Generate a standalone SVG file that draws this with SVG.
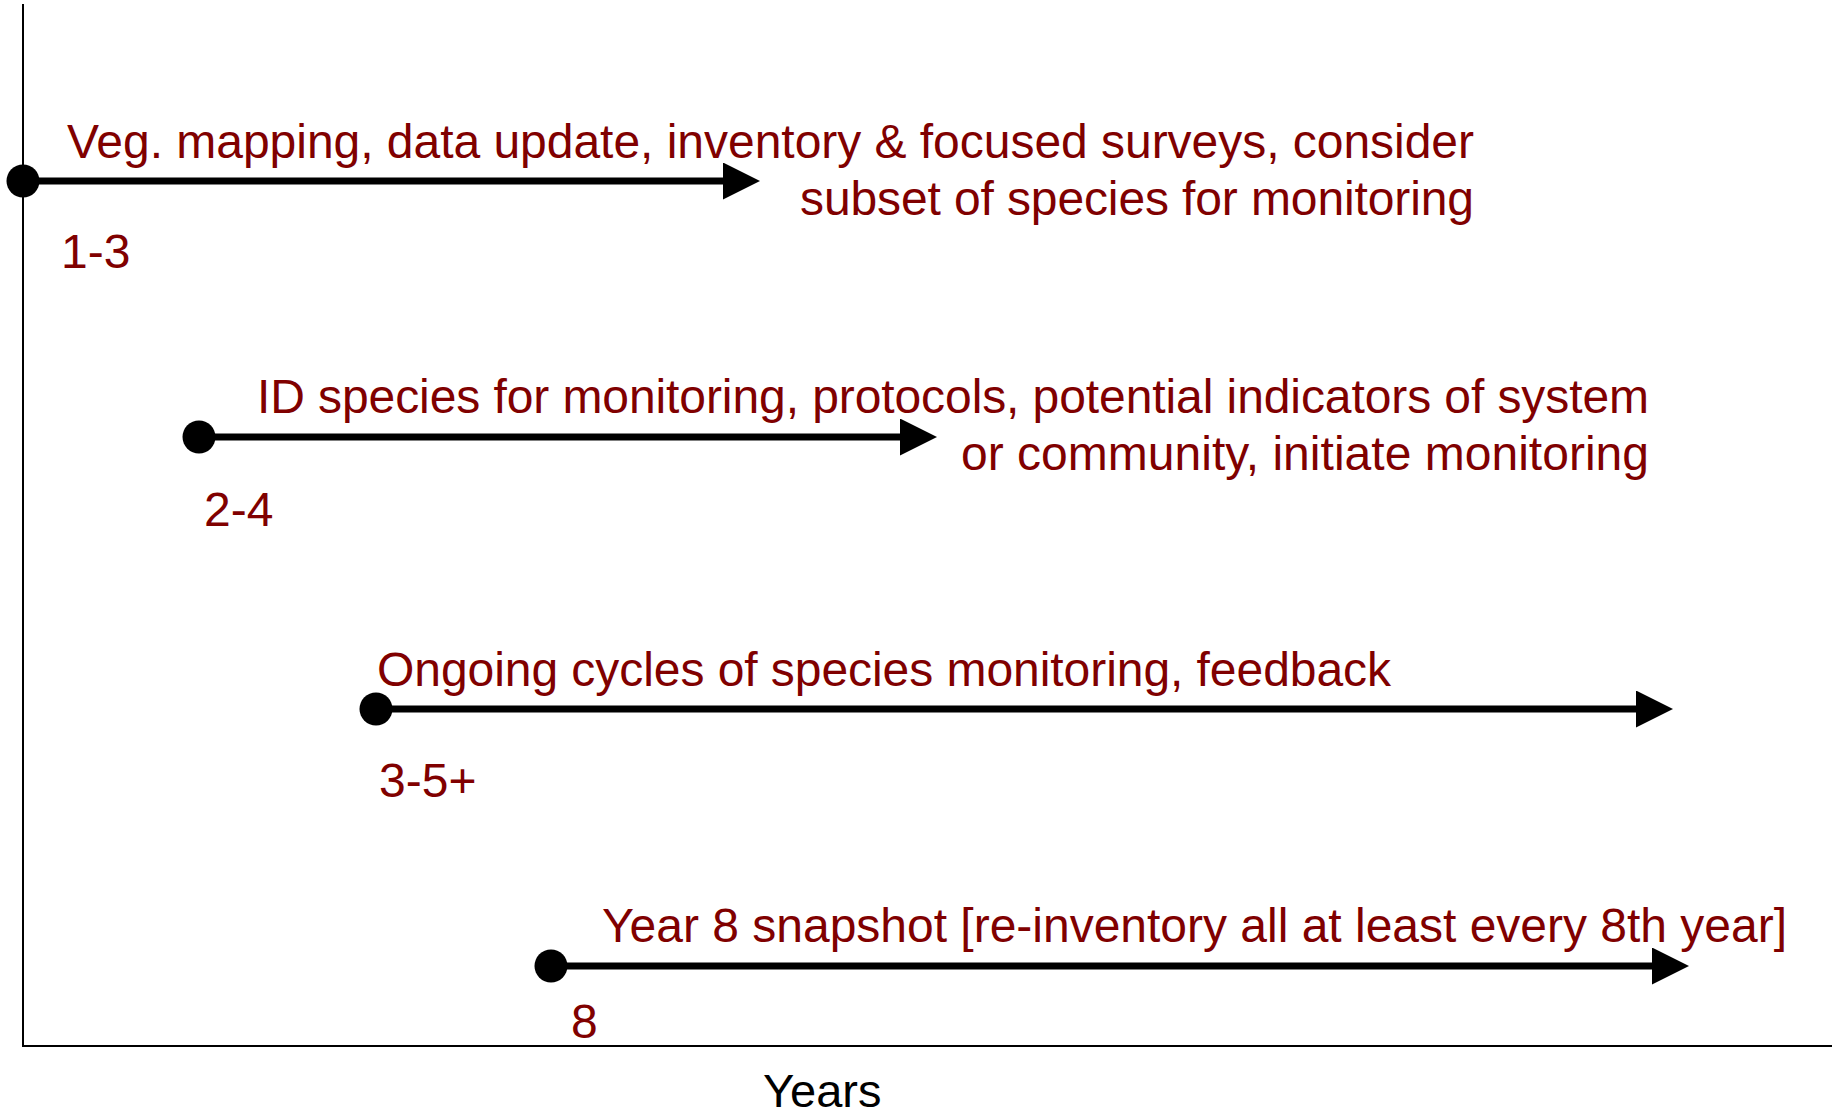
<svg xmlns="http://www.w3.org/2000/svg" width="1835" height="1119" viewBox="0 0 1835 1119">
  <style>
    .lbl { font-family: "Liberation Sans", Arial, sans-serif; font-size: 48px; fill: #800000; }
    .axlbl { font-family: "Liberation Sans", Arial, sans-serif; font-size: 47px; fill: #000000; }
    .axis { stroke: #000000; stroke-width: 2; fill: none; }
    .arrow { stroke: #000000; stroke-width: 7; fill: none; marker-end: url(#head); }
    .dot { fill: #000000; }
  </style>
  <defs>
    <marker id="head" viewBox="0 0 37 37" refX="5" refY="18.5" markerWidth="37" markerHeight="37" markerUnits="userSpaceOnUse" orient="auto">
      <path d="M0,0 L37,18.5 L0,37 Z" fill="#000000"/>
    </marker>
  </defs>
  <rect width="1835" height="1119" fill="#ffffff"/>

  <g id="axes">
    <path class="axis" d="M23,4 L23,1046 L1832,1046"/>
    <text class="axlbl" x="763" y="1107">Years</text>
  </g>

  <g id="connectors">
    <line class="arrow" x1="23" y1="181" x2="728" y2="181"/>
    <line class="arrow" x1="199" y1="437" x2="905" y2="437"/>
    <line class="arrow" x1="376" y1="709" x2="1641" y2="709"/>
    <line class="arrow" x1="551" y1="966" x2="1657" y2="966"/>
  </g>

  <g id="step1">
    <circle class="dot" cx="23" cy="181" r="16.5"/>
    <text class="lbl" x="1474" y="158" text-anchor="end" textLength="1407" lengthAdjust="spacing">Veg. mapping, data update, inventory &amp; focused surveys, consider</text>
    <text class="lbl" x="1474" y="215" text-anchor="end" textLength="674" lengthAdjust="spacing">subset of species for monitoring</text>
    <text class="lbl" x="61" y="268">1-3</text>
  </g>

  <g id="step2">
    <circle class="dot" cx="199" cy="437" r="16.5"/>
    <text class="lbl" x="1649" y="413" text-anchor="end" textLength="1392" lengthAdjust="spacing">ID species for monitoring, protocols, potential indicators of system</text>
    <text class="lbl" x="1649" y="470" text-anchor="end" textLength="688" lengthAdjust="spacing">or community, initiate monitoring</text>
    <text class="lbl" x="204" y="526">2-4</text>
  </g>

  <g id="step3">
    <circle class="dot" cx="376" cy="709" r="16.5"/>
    <text class="lbl" x="377" y="686" textLength="1014" lengthAdjust="spacing">Ongoing cycles of species monitoring, feedback</text>
    <text class="lbl" x="379" y="797">3-5+</text>
  </g>

  <g id="step4">
    <circle class="dot" cx="551" cy="966" r="16.5"/>
    <text class="lbl" x="602" y="942" textLength="1185" lengthAdjust="spacing">Year 8 snapshot [re-inventory all at least every 8th year]</text>
    <text class="lbl" x="571" y="1038">8</text>
  </g>
</svg>
